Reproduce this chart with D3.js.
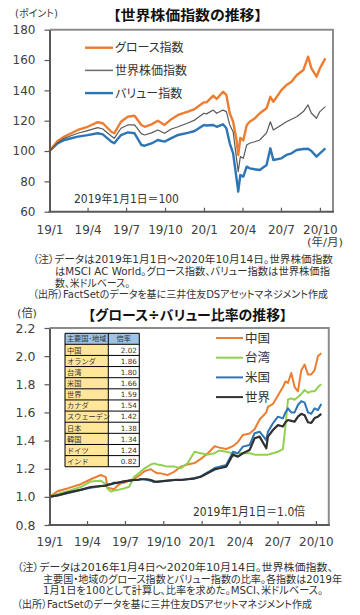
<!DOCTYPE html>
<html><head><meta charset="utf-8">
<script src="https://cdn.jsdelivr.net/npm/d3@7"></script>
<style>
html,body{margin:0;padding:0;background:#fff;}
svg{display:block;}
text{font-family:"Noto Sans CJK JP","Noto Sans",sans-serif;}
.num{font-family:"DejaVu Sans",Verdana,sans-serif;}
.jp{font-family:"DejaVu Sans","Noto Sans CJK JP",sans-serif;font-feature-settings:"palt";}
</style></head>
<body>
<script>
// ---------- DATA: top chart (MSCI indices, 2019/1/1 = 100) ----------
const topDates = ["2019-01-01","2019-01-20","2019-02-05","2019-03-09","2019-04-01","2019-04-25","2019-05-07","2019-05-27","2019-06-03","2019-06-19","2019-07-05","2019-07-21","2019-08-06","2019-08-14","2019-08-30","2019-09-14","2019-09-30","2019-10-16","2019-11-01","2019-11-24","2019-12-10","2020-01-01","2020-01-07","2020-01-23","2020-01-31","2020-02-15","2020-02-23","2020-03-02","2020-03-10","2020-03-18","2020-03-22","2020-03-27","2020-04-03","2020-04-11","2020-04-18","2020-04-30","2020-05-12","2020-05-28","2020-06-06","2020-06-13","2020-07-02","2020-07-14","2020-07-26","2020-08-07","2020-08-23","2020-09-03","2020-09-11","2020-09-23","2020-10-01","2020-10-14"];
const growthIndex = [100,106.6,109.5,113.9,116,119,118.3,112.7,111.7,119.3,122.6,123.3,117.2,116,117.6,120,117.2,121,123.8,126,127.7,132.1,132.1,136.5,134.3,139.1,137,124.9,119.3,107.3,97.4,108.6,107,117,119.3,121.5,124.9,128.2,135.8,132.5,140.2,143.5,145.7,150,153.4,162.2,154.5,149,154.5,161.1];
const worldIndex  = [100,105.5,108.4,111.7,113.5,115.4,114.5,109.9,108.4,115,117.2,117.2,111.5,110.6,112,113.9,111.7,114.5,116,118.5,120.4,124.9,124.5,127,124.9,127,126,117.2,112.7,95.2,86.4,96.3,95.2,104,105.1,106.1,107.3,112,119.3,113.9,117.2,119.3,121,122.6,126,130.4,124.9,121.6,126,129.3];
const valueIndex  = [100,105,107.3,109.5,110.5,111.7,111,106.2,105.1,110.5,112.3,111.7,104,103.5,105,107.3,106.2,108.5,110.6,112,113.2,117.2,116.8,117.2,116,117.6,115,105.1,98.5,82,73.2,84.2,83.1,89.7,88.6,88,87.5,90.8,101.8,94.1,95.2,97.4,98.5,100.7,101.3,101.5,100,96.3,98.5,101.8];
const topSeriesNames = ["グロース指数","世界株価指数","バリュー指数"];
const topYTicks = [60,80,100,120,140,160,180];

// ---------- DATA: bottom chart (growth / value ratio) ----------
const ratioDates = ["2019-01-01","2019-01-20","2019-02-13","2019-03-17","2019-04-10","2019-05-04","2019-05-16","2019-05-20","2019-05-28","2019-06-05","2019-06-13","2019-06-21","2019-06-29","2019-07-11","2019-07-23","2019-07-31","2019-08-08","2019-08-16","2019-08-24","2019-09-01","2019-09-09","2019-09-17","2019-09-25","2019-10-11","2019-10-28","2019-11-12","2019-11-28","2019-12-15","2019-12-30","2020-01-16","2020-02-01","2020-02-13","2020-02-29","2020-03-16","2020-03-28","2020-04-09","2020-04-25","2020-05-07","2020-05-19","2020-06-04","2020-06-08","2020-06-20","2020-07-02","2020-07-14","2020-07-20","2020-07-26","2020-08-03","2020-08-11","2020-08-19","2020-08-27","2020-09-04","2020-09-12","2020-09-20","2020-09-28","2020-10-06","2020-10-14"];
const chinaRatio  = [1.00,1.04,1.06,1.09,1.125,1.155,1.14,1.065,1.06,1.054,1.08,1.096,1.10,1.115,1.13,1.143,1.16,1.18,1.19,1.196,1.18,1.167,1.167,1.155,1.18,1.215,1.23,1.24,1.27,1.31,1.36,1.35,1.34,1.36,1.39,1.44,1.45,1.48,1.55,1.60,1.64,1.66,1.72,1.78,1.82,1.81,1.88,1.78,1.75,1.90,1.94,1.87,1.87,1.90,2.00,2.02];
const taiwanRatio = [1.00,1.02,1.04,1.07,1.11,1.115,1.09,1.06,1.037,1.045,1.048,1.055,1.06,1.072,1.143,1.16,1.18,1.20,1.215,1.23,1.238,1.23,1.226,1.215,1.215,1.203,1.238,1.32,1.31,1.30,1.31,1.33,1.32,1.31,1.31,1.31,1.31,1.30,1.30,1.30,1.30,1.31,1.32,1.34,1.50,1.69,1.70,1.69,1.71,1.73,1.76,1.74,1.75,1.75,1.78,1.80];
const usRatio     = [1.00,1.01,1.025,1.05,1.065,1.075,1.08,1.085,1.09,1.095,1.10,1.105,1.11,1.115,1.12,1.12,1.125,1.125,1.12,1.115,1.105,1.105,1.11,1.115,1.12,1.12,1.125,1.135,1.145,1.175,1.205,1.215,1.226,1.32,1.31,1.357,1.369,1.452,1.463,1.404,1.463,1.523,1.57,1.558,1.60,1.629,1.60,1.60,1.653,1.68,1.67,1.60,1.59,1.629,1.617,1.66];
const worldRatio  = [1.00,1.01,1.03,1.05,1.07,1.077,1.08,1.085,1.09,1.10,1.10,1.105,1.11,1.115,1.12,1.12,1.125,1.125,1.125,1.12,1.11,1.108,1.11,1.115,1.12,1.12,1.125,1.13,1.143,1.17,1.195,1.203,1.215,1.30,1.286,1.31,1.333,1.416,1.428,1.345,1.428,1.475,1.51,1.50,1.53,1.546,1.54,1.534,1.57,1.59,1.58,1.53,1.525,1.56,1.57,1.59];
const ratioSeriesNames = ["中国","台湾","米国","世界"];
const bottomYTicks = [0.8,1.0,1.2,1.4,1.6,1.8,2.0,2.2];

// ---------- DATA: ratio table ----------
const tableHeader = ["主要国･地域","倍率"];
const tableNames  = ["中国","オランダ","台湾","米国","世界","カナダ","スウェーデン","日本","韓国","ドイツ","インド"];
const tableRatios = [2.02,1.86,1.80,1.66,1.59,1.54,1.42,1.38,1.34,1.24,0.82];

// ---------- axis ticks ----------
const xTickDates  = ["2019-01-01","2019-04-01","2019-07-01","2019-10-01","2020-01-01","2020-04-01","2020-07-01","2020-10-01"];
const xTickLabels = ["19/1","19/4","19/7","19/10","20/1","20/4","20/7","20/10"];

// ---------- drawing ----------
const parse = d3.utcParse("%Y-%m-%d");
const svg = d3.select("body").append("svg").attr("width",360).attr("height",615);
const AXIS = "#595959", FRAME = "#8c8c8c", LABEL = "#404040";

function jpText(x, y, str, size, opts = {}) {
  const t = svg.append("text").attr("x", x).attr("y", y).text(str)
    .attr("font-size", size).attr("fill", opts.fill || "#222")
    .attr("class", opts.cls || "jp");
  if (opts.anchor) t.attr("text-anchor", opts.anchor);
  if (opts.weight) t.attr("font-weight", opts.weight);
  if (opts.len) t.attr("textLength", opts.len).attr("lengthAdjust", "spacingAndGlyphs");
  return t;
}

function drawPanel(cfg) {
  const x = d3.scaleUtc().domain([parse("2019-01-01"), parse("2020-11-01")]).range([cfg.x0, cfg.x1]);
  const y = d3.scaleLinear().domain(cfg.yDomain).range([cfg.yb, cfg.yt]);
  // frame (top/right lighter)
  svg.append("path").attr("d", `M${cfg.x0},${cfg.yt}H${cfg.x1}V${cfg.yb}`)
    .attr("fill","none").attr("stroke",FRAME).attr("stroke-width",2);
  // lines
  const dates = cfg.dates.map(parse);
  const line = d3.line().x((d,i)=>x(dates[i])).y(d=>y(d));
  cfg.series.forEach(s => {
    svg.append("path").datum(s.values).attr("d", line).attr("fill","none")
      .attr("stroke", s.color).attr("stroke-width", s.width).attr("stroke-linejoin","round");
  });
  // y axis
  const ya = svg.append("g").attr("transform",`translate(${cfg.x0},0)`)
    .call(d3.axisLeft(y).tickValues(cfg.yTicks).tickFormat(cfg.yFmt).tickSizeInner(5).tickSizeOuter(0).tickPadding(9));
  ya.select(".domain").attr("stroke",AXIS).attr("stroke-width",2);
  ya.selectAll(".tick line").attr("stroke",AXIS).attr("stroke-width",1.2);
  ya.selectAll(".tick text").attr("class","num").attr("font-size",cfg.yFont).attr("fill",LABEL);
  // x axis
  const xa = svg.append("g").attr("transform",`translate(0,${cfg.yb})`)
    .call(d3.axisBottom(x).tickValues(xTickDates.map(parse))
      .tickFormat((d,i)=>xTickLabels[i]).tickSizeInner(-4).tickSizeOuter(0).tickPadding(cfg.xPad));
  xa.select(".domain").attr("stroke",AXIS).attr("stroke-width",2)
    .attr("d", `M${cfg.x0 - 1},0H${cfg.x1 + 1}`);
  xa.selectAll(".tick line").attr("stroke",AXIS).attr("stroke-width",1.2);
  xa.selectAll(".tick text").attr("class","num").attr("font-size",12).attr("fill",LABEL);
  return {x, y};
}

// ===== Top chart =====
jpText(187.5, 19.5, "【世界株価指数の推移】", 13.5, {anchor:"middle", weight:700, fill:"#111", len:149, cls:""});
jpText(15, 16.5, "(ポイント)", 10, {fill:LABEL, len:43});
drawPanel({
  x0:49.5, x1:333, yt:29.7, yb:211.7, yDomain:[60,180], yTicks:topYTicks, yFmt:d3.format("d"), yFont:12, xPad:14,
  dates: topDates,
  series: [
    {values: valueIndex,  color:"#2E75B6", width:2.4},
    {values: growthIndex, color:"#ED7D31", width:2.4},
    {values: worldIndex,  color:"#595959", width:1.2}
  ]
});
const topLegColors = ["#ED7D31","#6b6b6b","#2E75B6"];
const topLegW = [2.4,1.5,2.4];
topSeriesNames.forEach((n,i)=>{
  const cy = 47.7 + i*22.7;
  svg.append("line").attr("x1",85).attr("x2",113).attr("y1",cy).attr("y2",cy)
    .attr("stroke",topLegColors[i]).attr("stroke-width",topLegW[i]);
  jpText(115, cy+4.5, n, 12, {fill:"#333", cls:""});
});
jpText(74, 203, "2019年1月1日＝100", 11.5, {fill:"#333", len:105});
jpText(307, 246, "(年/月)", 11, {fill:LABEL, len:36, cls:""});

const topNotes = [
  {x:33, y:262.5, t:"（注）データは2019年1月1日～2020年10月14日。世界株価指数", w:300},
  {x:55, y:274.5, t:"はMSCI AC World。グロース指数、バリュー指数は世界株価指", w:275},
  {x:55, y:286.5, t:"数、米ドルベース。", w:75},
  {x:33, y:298, t:"（出所）FactSetのデータを基に三井住友DSアセットマネジメント作成", w:295}
];
topNotes.forEach(n=>jpText(n.x, n.y, n.t, 10.5, {fill:"#333", len:n.w}));

// ===== Bottom chart =====
jpText(17, 317, "(倍)", 11, {fill:LABEL, len:20, cls:""});
jpText(187.5, 320, "【グロース÷バリュー比率の推移】", 13.5, {anchor:"middle", weight:700, fill:"#111", len:199, cls:""});
drawPanel({
  x0:49.5, x1:328.8, yt:328, yb:525, yDomain:[0.8,2.2], yTicks:bottomYTicks, yFmt:d3.format(".1f"), yFont:12.5, xPad:12,
  dates: ratioDates,
  series: [
    {values: chinaRatio,  color:"#ED7D31", width:2},
    {values: taiwanRatio, color:"#92D050", width:2},
    {values: usRatio,     color:"#2E75B6", width:2},
    {values: worldRatio,  color:"#303030", width:2.2}
  ]
});
const botLegColors = ["#ED7D31","#92D050","#2E75B6","#303030"];
ratioSeriesNames.forEach((n,i)=>{
  const cy = 338 + i*19.7;
  svg.append("line").attr("x1",216).attr("x2",243).attr("y1",cy).attr("y2",cy)
    .attr("stroke",botLegColors[i]).attr("stroke-width",2);
  jpText(245, cy+4.6, n, 12.5, {fill:"#333", cls:""});
});
jpText(193, 516, "2019年1月1日＝1.0倍", 12, {fill:"#333", len:112});

// table
const tx0 = 65, tx1 = 108.3, tx2 = 139.3, ty0 = 333.3, hh = 11, rh = 11.13;
const tg = svg.append("g");
tg.append("rect").attr("x",tx0).attr("y",ty0).attr("width",tx2-tx0).attr("height",hh).attr("fill","#9DC3E6");
tableNames.forEach((n,i)=>{
  const ry = ty0 + hh + i*rh;
  tg.append("rect").attr("x",tx0).attr("y",ry).attr("width",tx1-tx0).attr("height",rh).attr("fill","#FFE699");
  tg.append("rect").attr("x",tx1).attr("y",ry).attr("width",tx2-tx1).attr("height",rh).attr("fill","#fff");
  tg.append("text").attr("x",tx0+2).attr("y",ry+8.3).attr("font-size",7.2).attr("fill","#333").text(n);
  tg.append("text").attr("class","num").attr("x",tx2-2.5).attr("y",ry+8.3).attr("font-size",7.2)
    .attr("text-anchor","end").attr("fill","#333").text(d3.format(".2f")(tableRatios[i]));
});
tg.append("text").attr("x",(tx0+tx1)/2).attr("y",ty0+8).attr("font-size",7.2).attr("text-anchor","middle").attr("fill","#333").text(tableHeader[0]);
tg.append("text").attr("x",(tx1+tx2)/2).attr("y",ty0+8).attr("font-size",7.2).attr("text-anchor","middle").attr("fill","#333").text(tableHeader[1]);
// grid lines
const tyEnd = ty0 + hh + tableNames.length*rh;
const hLines = [ty0, ty0+hh].concat(tableNames.map((_,i)=>ty0+hh+(i+1)*rh));
hLines.forEach(yy=>tg.append("line").attr("x1",tx0).attr("x2",tx2).attr("y1",yy).attr("y2",yy).attr("stroke","#000").attr("stroke-width",1));
[tx0,tx1,tx2].forEach(xx=>tg.append("line").attr("x1",xx).attr("x2",xx).attr("y1",ty0).attr("y2",tyEnd).attr("stroke","#000").attr("stroke-width",1));

const botNotes = [
  {x:17, y:571, t:"（注）データは2016年1月4日～2020年10月14日。世界株価指数、", w:316},
  {x:43, y:582.5, t:"主要国・地域のグロース指数とバリュー指数の比率。各指数は2019年", w:299},
  {x:43, y:594, t:"1月1日を100として計算し、比率を求めた。MSCI、米ドルベース。", w:280},
  {x:17, y:608, t:"（出所）FactSetのデータを基に三井住友DSアセットマネジメント作成", w:295}
];
botNotes.forEach(n=>jpText(n.x, n.y, n.t, 10.5, {fill:"#333", len:n.w}));
</script>
</body></html>
